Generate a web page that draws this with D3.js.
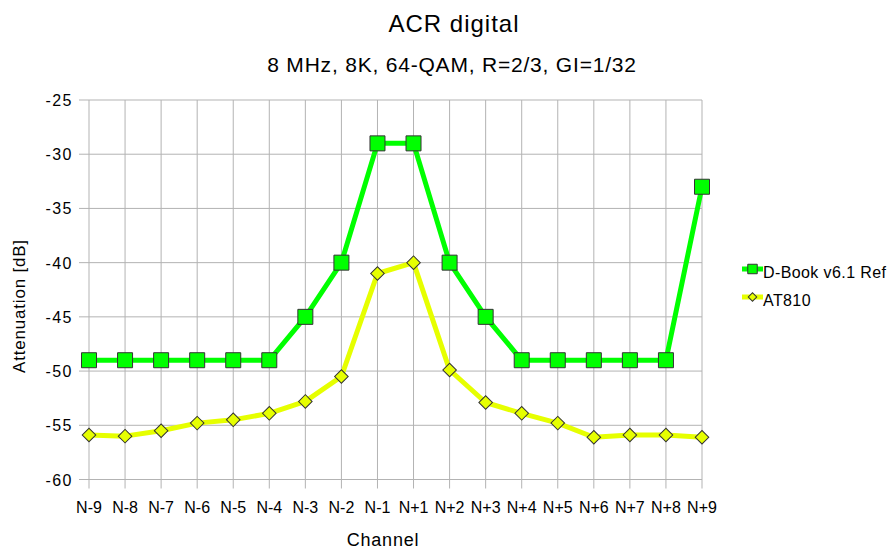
<!DOCTYPE html>
<html>
<head>
<meta charset="utf-8">
<script src="https://cdn.jsdelivr.net/npm/d3@7"></script>
<style>
body { margin: 0; background: #fff; }
text { font-family: "Liberation Sans", Arial, sans-serif; fill: #000; }
</style>
</head>
<body>
<div id="chart"></div>
<script>
const channels = ["N-9","N-8","N-7","N-6","N-5","N-4","N-3","N-2","N-1","N+1","N+2","N+3","N+4","N+5","N+6","N+7","N+8","N+9"]
const dbookValues = [-49,-49,-49,-49,-49,-49,-45,-40,-29,-29,-40,-45,-49,-49,-49,-49,-49,-33]
const at810Values = [-55.9,-56,-55.5,-54.8,-54.5,-53.9,-52.8,-50.5,-41,-40,-49.9,-52.9,-53.9,-54.8,-56.1,-55.9,-55.9,-56.1]
const yTicks = [-25,-30,-35,-40,-45,-50,-55,-60]

let width = 891
let height = 549

const svg = d3.select('#chart')
	.append('svg')
	.attr('width', width)
	.attr('height', height)

let xScale = d3.scalePoint()
	.domain(channels)
	.range([89, 702])

let yScale = d3.scaleLinear()
	.domain([-60, -25])
	.range([479.5, 100])

const gridColor = '#b3b3b3'

// vertical grid + tick marks below the axis
svg.append('g')
	.selectAll('line')
	.data(channels)
	.join('line')
	.attr('x1', d => xScale(d))
	.attr('x2', d => xScale(d))
	.attr('y1', yScale(-25))
	.attr('y2', yScale(-60) + 9)
	.attr('stroke', gridColor)
	.attr('stroke-width', 1)

// horizontal grid + tick marks left of the plot
svg.append('g')
	.selectAll('line')
	.data(yTicks)
	.join('line')
	.attr('x1', 79)
	.attr('x2', 702)
	.attr('y1', d => yScale(d))
	.attr('y2', d => yScale(d))
	.attr('stroke', gridColor)
	.attr('stroke-width', 1)

// y tick labels
svg.append('g')
	.selectAll('text')
	.data(yTicks)
	.join('text')
	.attr('x', 73)
	.attr('y', d => yScale(d) + 6)
	.attr('text-anchor', 'end')
	.attr('font-size', 16)
	.attr('letter-spacing', 1.5)
	.text(d => d)

// x tick labels
svg.append('g')
	.selectAll('text')
	.data(channels)
	.join('text')
	.attr('x', d => xScale(d))
	.attr('y', 513)
	.attr('text-anchor', 'middle')
	.attr('font-size', 16)
	.text(d => d)

// titles
svg.append('text')
	.attr('x', 454)
	.attr('y', 32)
	.attr('text-anchor', 'middle')
	.attr('font-size', 24)
	.attr('letter-spacing', 1)
	.text('ACR digital')

svg.append('text')
	.attr('x', 452)
	.attr('y', 72)
	.attr('text-anchor', 'middle')
	.attr('font-size', 21)
	.attr('letter-spacing', 0.8)
	.text('8 MHz, 8K, 64-QAM, R=2/3, GI=1/32')

svg.append('text')
	.attr('x', 383)
	.attr('y', 546)
	.attr('text-anchor', 'middle')
	.attr('font-size', 18)
	.attr('letter-spacing', 0.8)
	.text('Channel')

svg.append('text')
	.attr('transform', 'translate(25,306) rotate(-90)')
	.attr('text-anchor', 'middle')
	.attr('font-size', 17)
	.attr('letter-spacing', 0.8)
	.text('Attenuation [dB]')

let line = d3.line()
	.x((d, i) => xScale(channels[i]))
	.y(d => yScale(d))

const series = [
	{name: 'D-Book v6.1 Ref', values: dbookValues, color: '#00ff00', shape: 'square'},
	{name: 'AT810', values: at810Values, color: '#e6ff00', shape: 'diamond'}
]

// draw yellow first so green sits on top
series.slice().reverse().forEach(function(s){
	svg.append('path')
		.datum(s.values)
		.attr('d', line)
		.attr('fill', 'none')
		.attr('stroke', s.color)
		.attr('stroke-width', 5)
		.attr('stroke-linejoin', 'round')

	const sym = s.shape == 'square' ? d3.symbol(d3.symbolSquare, 225) : d3.symbol(d3.symbolSquare, 92)
	svg.append('g')
		.selectAll('path')
		.data(s.values)
		.join('path')
		.attr('d', sym)
		.attr('transform', (d, i) => `translate(${xScale(channels[i])},${yScale(d)})` + (s.shape == 'diamond' ? ' rotate(45)' : ''))
		.attr('fill', s.color)
		.attr('stroke', '#333')
		.attr('stroke-width', 1)
})

// legend
series.forEach(function(s, i){
	let ly = 269 + i * 28
	let g = svg.append('g').attr('transform', `translate(742,${ly})`)
	g.append('line')
		.attr('x1', 0).attr('x2', 21)
		.attr('y1', 0).attr('y2', 0)
		.attr('stroke', s.color)
		.attr('stroke-width', 5)
	g.append('path')
		.attr('d', s.shape == 'square' ? d3.symbol(d3.symbolSquare, 90) : d3.symbol(d3.symbolSquare, 36))
		.attr('transform', 'translate(10.5,0)' + (s.shape == 'diamond' ? ' rotate(45)' : ''))
		.attr('fill', s.color)
		.attr('stroke', '#333')
		.attr('stroke-width', 1)
	g.append('text')
		.attr('x', 21)
		.attr('y', 9)
		.attr('font-size', 16)
		.attr('letter-spacing', 0.4)
		.text(s.name)
})
</script>
</body>
</html>
